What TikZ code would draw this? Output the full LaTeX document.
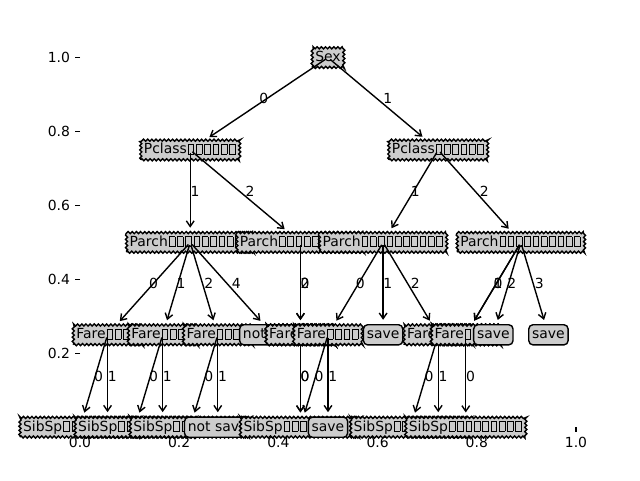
\documentclass[tikz,border=0pt]{standalone}
\usepackage{fontspec}
\setmainfont{DejaVu Sans}
\usepackage{xcolor}
\usepackage{tikz}
\usetikzlibrary{arrows.meta,decorations.pathmorphing,calc,positioning}
\definecolor{gris}{gray}{0.8}
% caja vacia (glifo que falta)
\newcommand{\tofu}{{\setlength{\fboxsep}{0pt}\setlength{\fboxrule}{0.45pt}\kern0.7pt\fbox{\rule{0pt}{6.6pt}\rule{3.6pt}{0pt}}\kern0.7pt}}
\newcommand{\tofus}[1]{\foreach \k in {1,...,#1}{\tofu}}
\newcommand{\rama}[4][]{\draw[flecha,#1] (#2.center) -- (#3);
  \node[etiq] (e-#2-#3) at ($(#2.center)!0.5!(#3.center)$) {#4};}
\tikzset{
  decision/.style={draw=black,fill=gris,line width=0.99pt,inner sep=2.2pt,
    text height=7.5pt,text depth=2.05pt,decorate,
    decoration={zigzag,segment length=2.95pt,amplitude=0.74pt}},
  hoja/.style={draw=black,fill=gris,line width=0.99pt,inner sep=2.4pt,
    rounded corners=3pt,text height=7.5pt,text depth=2.05pt},
  flecha/.style={-{Straight Barb[length=4pt,width=5.5pt]},line width=0.99pt,
    shorten >=3pt,shorten <=2pt},
  etiq/.style={anchor=base west,inner sep=0pt},
  ejes/.style={line width=0.79pt}
}

\begin{document}
\begin{tikzpicture}[x=0.68889cm,y=2.31cm,font=\fontsize{9.9}{12}\selectfont]
\useasboundingbox (-2cm,-1.32cm) rectangle (14cm,10.68cm);
% ejes
\foreach \v/\t [count=\i] in {0/0.0,3.6/0.2,7.2/0.4,10.8/0.6,14.4/0.8,18/1.0}{
  \draw[ejes] (\v,0) -- ++(0,-3.46pt);
  \node[anchor=north,inner sep=0pt] (xt\i) at ([yshift=-6.92pt]\v,0) {\t};}
\foreach \v/\t [count=\i] in {0.8/0.2,1.6/0.4,2.4/0.6,3.2/0.8,4/1.0}{
  \draw[ejes] (0,\v) -- ++(-3.46pt,0);
  \node[anchor=east,inner sep=0pt] (yt\i) at ([xshift=-6.92pt]0,\v) {\t};}
% arbol
\node[decision] (sex) at (9,4) {Sex};
\node[decision] (pcA) at (4,3) {Pclass\tofus{6}}; \rama{sex}{pcA}{0}
\node[decision] (pA) at (4,2) {Parch\tofus{10}}; \rama{pcA}{pA}{1}
\node[decision] (f1) at (1,1) {Fare\tofus{4}}; \rama{pA}{f1}{0}
\node[decision] (s0) at (0,0) {SibSp\tofus{9}}; \rama{f1}{s0}{0}
\coordinate (h1) at (1,0); \rama[shorten >=10.7pt]{f1}{h1}{1}
\node[decision] (f2) at (3,1) {Fare\tofus{4}}; \rama{pA}{f2}{1}
\node[decision] (s2) at (2,0) {SibSp\tofus{9}}; \rama{f2}{s2}{0}
\coordinate (h3) at (3,0); \rama[shorten >=10.7pt]{f2}{h3}{1}
\node[decision] (f3) at (5,1) {Fare\tofus{4}}; \rama{pA}{f3}{2}
\node[decision] (s4) at (4,0) {SibSp\tofus{9}}; \rama{f3}{s4}{0}
\node[hoja] (ns5) at (5,0) {not save}; \rama{f3}{ns5}{1}
\node[hoja] (ns7) at (7,1) {not save}; \rama{pA}{ns7}{4}
\node[decision] (pB) at (8,2) {Parch\tofus{10}}; \rama{pcA}{pB}{2}
\node[decision] (b0) at (8,1) {Fare\tofus{4}}; \rama{pB}{b0}{0}
\node[decision] (s8) at (8,0) {SibSp\tofus{9}}; \rama{b0}{s8}{0}
\node[decision] (b2) at (8,1) {Fare\tofus{4}}; \rama{pB}{b2}{2}
\rama{b2}{s8}{0}
\node[decision] (pcB) at (13,3) {Pclass\tofus{6}}; \rama{sex}{pcB}{1}
\node[decision] (pC) at (11,2) {Parch\tofus{10}}; \rama{pcB}{pC}{1}
\node[decision] (f5) at (9,1) {Fare\tofus{4}}; \rama{pC}{f5}{0}
\rama{f5}{s8}{0}
\node[hoja] (sv9) at (9,0) {save}; \rama{f5}{sv9}{1}
\node[hoja] (sv11) at (11,1) {save}; \rama{pC}{sv11}{1}
\node[decision] (f6) at (13,1) {Fare\tofus{4}}; \rama{pC}{f6}{2}
\node[decision] (s12) at (12,0) {SibSp\tofus{9}}; \rama{f6}{s12}{0}
\coordinate (h13) at (13,0); \rama[shorten >=10.7pt]{f6}{h13}{1}
\node[decision] (pD) at (16,2) {Parch\tofus{10}}; \rama{pcB}{pD}{2}
\node[decision] (d0) at (14,1) {Fare\tofus{4}}; \rama{pD}{d0}{0}
\node[decision] (d1) at (14,1) {Fare\tofus{4}}; \rama{pD}{d1}{1}
\node[decision] (s14) at (14,0) {SibSp\tofus{9}}; \rama{d1}{s14}{0}
\node[hoja] (sv15) at (15,1) {save}; \rama{pD}{sv15}{2}
\node[hoja] (sv17) at (17,1) {save}; \rama{pD}{sv17}{3}
\end{tikzpicture}
\end{document}
